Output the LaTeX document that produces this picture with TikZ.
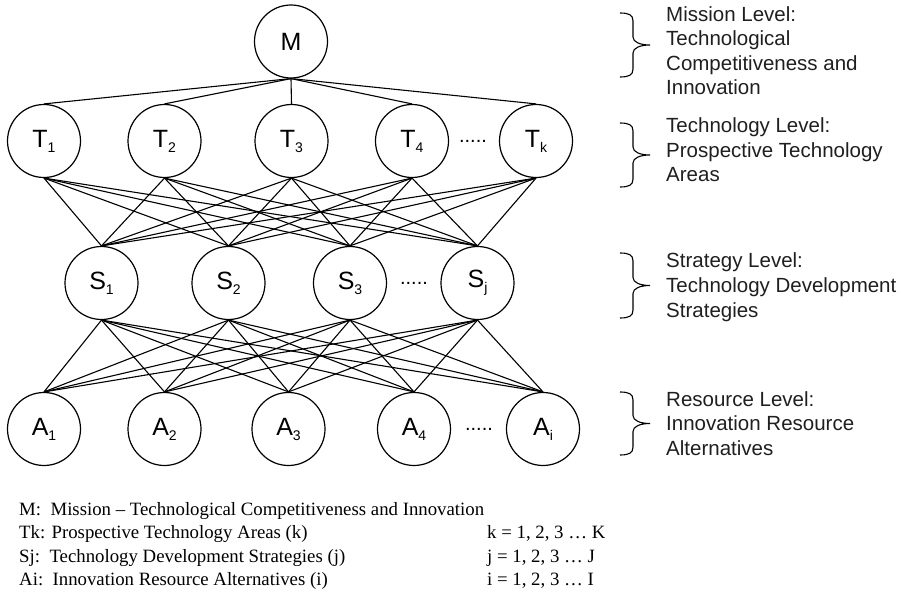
\documentclass[tikz,border=0pt]{standalone}
\usepackage{fontspec}
\setmainfont{Liberation Serif}
\newfontfamily\diagsans{Liberation Sans}
% lowered, smaller index after a node letter
\newcommand\lvsub[1]{\raisebox{-5pt}{\fontsize{14}{14}\selectfont #1}}
\begin{document}
\begin{tikzpicture}[x=1pt,y=-1pt,
  level node/.style={circle, draw, line width=1.2pt, minimum size=73pt, inner sep=0pt,
    font=\diagsans\fontsize{25}{25}\selectfont},
  link/.style={line width=1.1pt},
  gap dots/.style={inner sep=0pt, font=\diagsans\fontsize{20}{20}\selectfont},
  level brace/.style={line width=1.1pt},
  level text/.style={anchor=base west, inner sep=0pt, text=black!88, font=\diagsans\fontsize{20.5}{24}\selectfont},
  legend text/.style={anchor=base west, inner sep=0pt, font=\rmfamily\fontsize{18.8}{22}\selectfont}]
\useasboundingbox (0,0) rectangle (914,599);

% mission
\node[level node] (M) at (291,41.5) {M};

% technology areas
\node[level node] (T1) at (44,141)    {T\lvsub{1}};
\node[level node] (T2) at (164.5,141) {T\lvsub{2}};
\node[level node] (T3) at (291.5,141) {T\lvsub{3}};
\node[level node] (T4) at (412,141)   {T\lvsub{4}};
\node[level node] (Tk) at (536,141)   {T\lvsub{k}};
\node[gap dots] (Tdots) at (473,141) {.....};

% strategies
\node[level node] (S1) at (101.5,283) {S\lvsub{1}};
\node[level node] (S2) at (228.5,283) {S\lvsub{2}};
\node[level node] (S3) at (350,283)   {S\lvsub{3}};
\node[level node] (Sj) at (477.5,283) {S\lvsub{j}};
\node[gap dots] (Sdots) at (414,283) {.....};

% resource alternatives
\node[level node] (A1) at (44,429)    {A\lvsub{1}};
\node[level node] (A2) at (164.5,429) {A\lvsub{2}};
\node[level node] (A3) at (288.5,429) {A\lvsub{3}};
\node[level node] (A4) at (414,429)   {A\lvsub{4}};
\node[level node] (Ai) at (543,429)   {A\lvsub{i}};
\node[gap dots] (Adots) at (479,429) {.....};

% links between adjacent levels
\foreach \t in {T1,T2,T3,T4,Tk}
  \draw[link] (M.south) -- (\t.north);
\foreach \t in {T1,T2,T3,T4,Tk}
  \foreach \s in {S1,S2,S3,Sj}
    \draw[link] (\t.south) -- (\s.north);
\foreach \s in {S1,S2,S3,Sj}
  \foreach \a in {A1,A2,A3,A4,Ai}
    \draw[link] (\s.south) -- (\a.north);

% level braces
\foreach \ya/\yb in {13/77, 123/187, 253/318, 392/455}{
  \pgfmathsetmacro\ym{(\ya+\yb)/2}
  \draw[level brace] (620,\ya) .. controls (629,\ya) and (633,\ya+2) .. (633,\ya+8)
    -- (633,\ym-8) .. controls (633,\ym-3) and (640,\ym) .. (650,\ym)
    .. controls (640,\ym) and (633,\ym+3) .. (633,\ym+8)
    -- (633,\yb-8) .. controls (633,\yb-2) and (629,\yb) .. (620,\yb);
}

% level descriptions
\node[level text] (m1) at (666,21.5) {Mission Level:};
\node[level text] (m2) at (666,46) {Technological};
\node[level text] (m3) at (666,70.5) {Competitiveness and};
\node[level text] (m4) at (666,95) {Innovation};
\node[level text] (t1) at (666,133) {Technology Level:};
\node[level text] (t2) at (666,157.5) {Prospective Technology};
\node[level text] (t3) at (666,182) {Areas};
\node[level text] (s1) at (666,268) {Strategy Level:};
\node[level text] (s2) at (666,292.5) {Technology Development};
\node[level text] (s3) at (666,317) {Strategies};
\node[level text] (r1) at (666,406) {Resource Level:};
\node[level text] (r2) at (666,430.5) {Innovation Resource};
\node[level text] (r3) at (666,455) {Alternatives};

% legend
\node[legend text] (l1) at (19,515) {M:\ \ Mission -- Technological Competitiveness and Innovation};
\node[legend text] (l2) at (19,538.5) {Tk: Prospective Technology Areas (k)};
\node[legend text] (l3) at (19,562) {Sj:\ \ Technology Development Strategies (j)};
\node[legend text] (l4) at (19,585.5) {Ai:\ \ Innovation Resource Alternatives (i)};
\node[legend text] (k2) at (487,538.5) {k = 1, 2, 3 \dots\ K};
\node[legend text] (k3) at (487,562) {j = 1, 2, 3 \dots\ J};
\node[legend text] (k4) at (487,585.5) {i = 1, 2, 3 \dots\ I};
\end{tikzpicture}
\end{document}
